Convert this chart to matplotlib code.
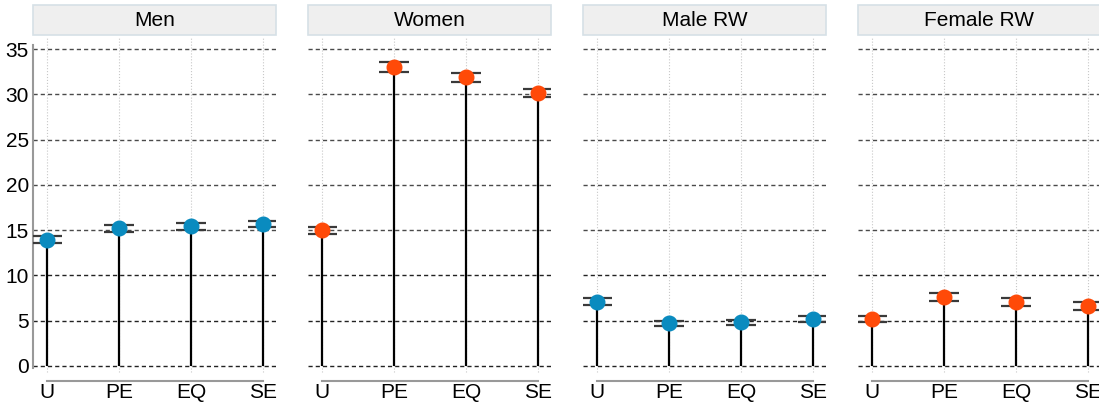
import matplotlib.pyplot as plt
from matplotlib.patches import Rectangle
import numpy as np

plt.rcParams['font.family'] = ['Liberation Sans Narrow', 'Liberation Sans', 'DejaVu Sans']

# categories on the x axis of every panel
cats = ['U', 'PE', 'EQ', 'SE']
panels = ['Men', 'Women', 'Male RW', 'Female RW']

# point estimates and interval bounds, one list per panel
men = [13.95, 15.2, 15.45, 15.7]
men_lo = [13.55, 14.8, 15.05, 15.3]
men_hi = [14.3, 15.6, 15.8, 16.05]

women = [14.95, 33.05, 31.9, 30.1]
women_lo = [14.55, 32.5, 31.4, 29.65]
women_hi = [15.35, 33.6, 32.4, 30.6]

male_rw = [7.1, 4.7, 4.8, 5.15]
male_rw_lo = [6.7, 4.4, 4.5, 4.85]
male_rw_hi = [7.45, 4.95, 5.05, 5.45]

female_rw = [5.2, 7.6, 7.05, 6.6]
female_rw_lo = [4.85, 7.15, 6.6, 6.15]
female_rw_hi = [5.5, 8.0, 7.45, 7.05]

blue = '#0a8bbf'
orange = '#ff4a08'
series = [(men, men_lo, men_hi, blue),
          (women, women_lo, women_hi, orange),
          (male_rw, male_rw_lo, male_rw_hi, blue),
          (female_rw, female_rw_lo, female_rw_hi, orange)]

W, H = 1099, 405
fig = plt.figure(figsize=(W / 100, H / 100), dpi=100)

x = np.arange(len(cats))
lefts = [33, 308, 583, 858]
top, bottom = 45, 368
for i, (name, (val, lo, hi, col)) in enumerate(zip(panels, series)):
    ax = fig.add_axes([lefts[i] / W, (H - bottom) / H, 243 / W, (bottom - top) / H])
    ax.set_xlim(-0.195, 3.18)
    ax.set_ylim(-0.25, 35.45)

    # horizontal dashed grid
    for yv in range(0, 40, 5):
        ax.axhline(yv, color='#222222' if yv < 15 else '#4a4a4a', lw=1.0,
                   ls=(0, (3, 2.2)), zorder=1)
    # faint dotted guides at each category
    for xv in x:
        ax.plot([xv, xv], [-0.7, 36.3], color='#c8c8c8', lw=0.8, ls=':',
                clip_on=False, zorder=0)

    # stems, interval caps and points
    ax.vlines(x, 0, val, color='black', lw=1.6, zorder=3)
    ax.hlines(lo, x - 0.21, x + 0.21, color='#3a3a3a', lw=1.6, zorder=3)
    ax.hlines(hi, x - 0.21, x + 0.21, color='#3a3a3a', lw=1.6, zorder=3)
    ax.plot(x, val, 'o', color=col, ms=10.5, zorder=4, clip_on=False)

    for s in ['top', 'right']:
        ax.spines[s].set_visible(False)
    ax.spines['bottom'].set_position(('outward', 9))
    ax.spines['bottom'].set_bounds(0, 3)
    ax.spines['bottom'].set_color('#999999')
    ax.spines['bottom'].set_linewidth(1.5)
    ax.set_xticks(x)
    ax.set_xticklabels(cats, fontsize=15)
    ax.tick_params(axis='x', length=0, pad=2)
    ax.set_yticks(range(0, 40, 5))
    if i == 0:
        ax.spines['left'].set_color('#999999')
        ax.spines['left'].set_linewidth(1.5)
        ax.tick_params(axis='y', length=0, pad=3, labelsize=15)
    else:
        ax.spines['left'].set_visible(False)
        ax.tick_params(axis='y', length=0, labelleft=False)

    # panel header strip
    y0 = (bottom - 35) / (bottom - top)
    y1 = (bottom - 5) / (bottom - top)
    ax.add_patch(Rectangle((0, y0), 1, y1 - y0, transform=ax.transAxes,
                           facecolor='#efefef', edgecolor='#d6e0e6', lw=1.2,
                           clip_on=False))
    ax.text(0.5, (y0 + y1) / 2, name, transform=ax.transAxes, ha='center',
            va='center', fontsize=15)

fig.savefig('out.png', dpi=100)
